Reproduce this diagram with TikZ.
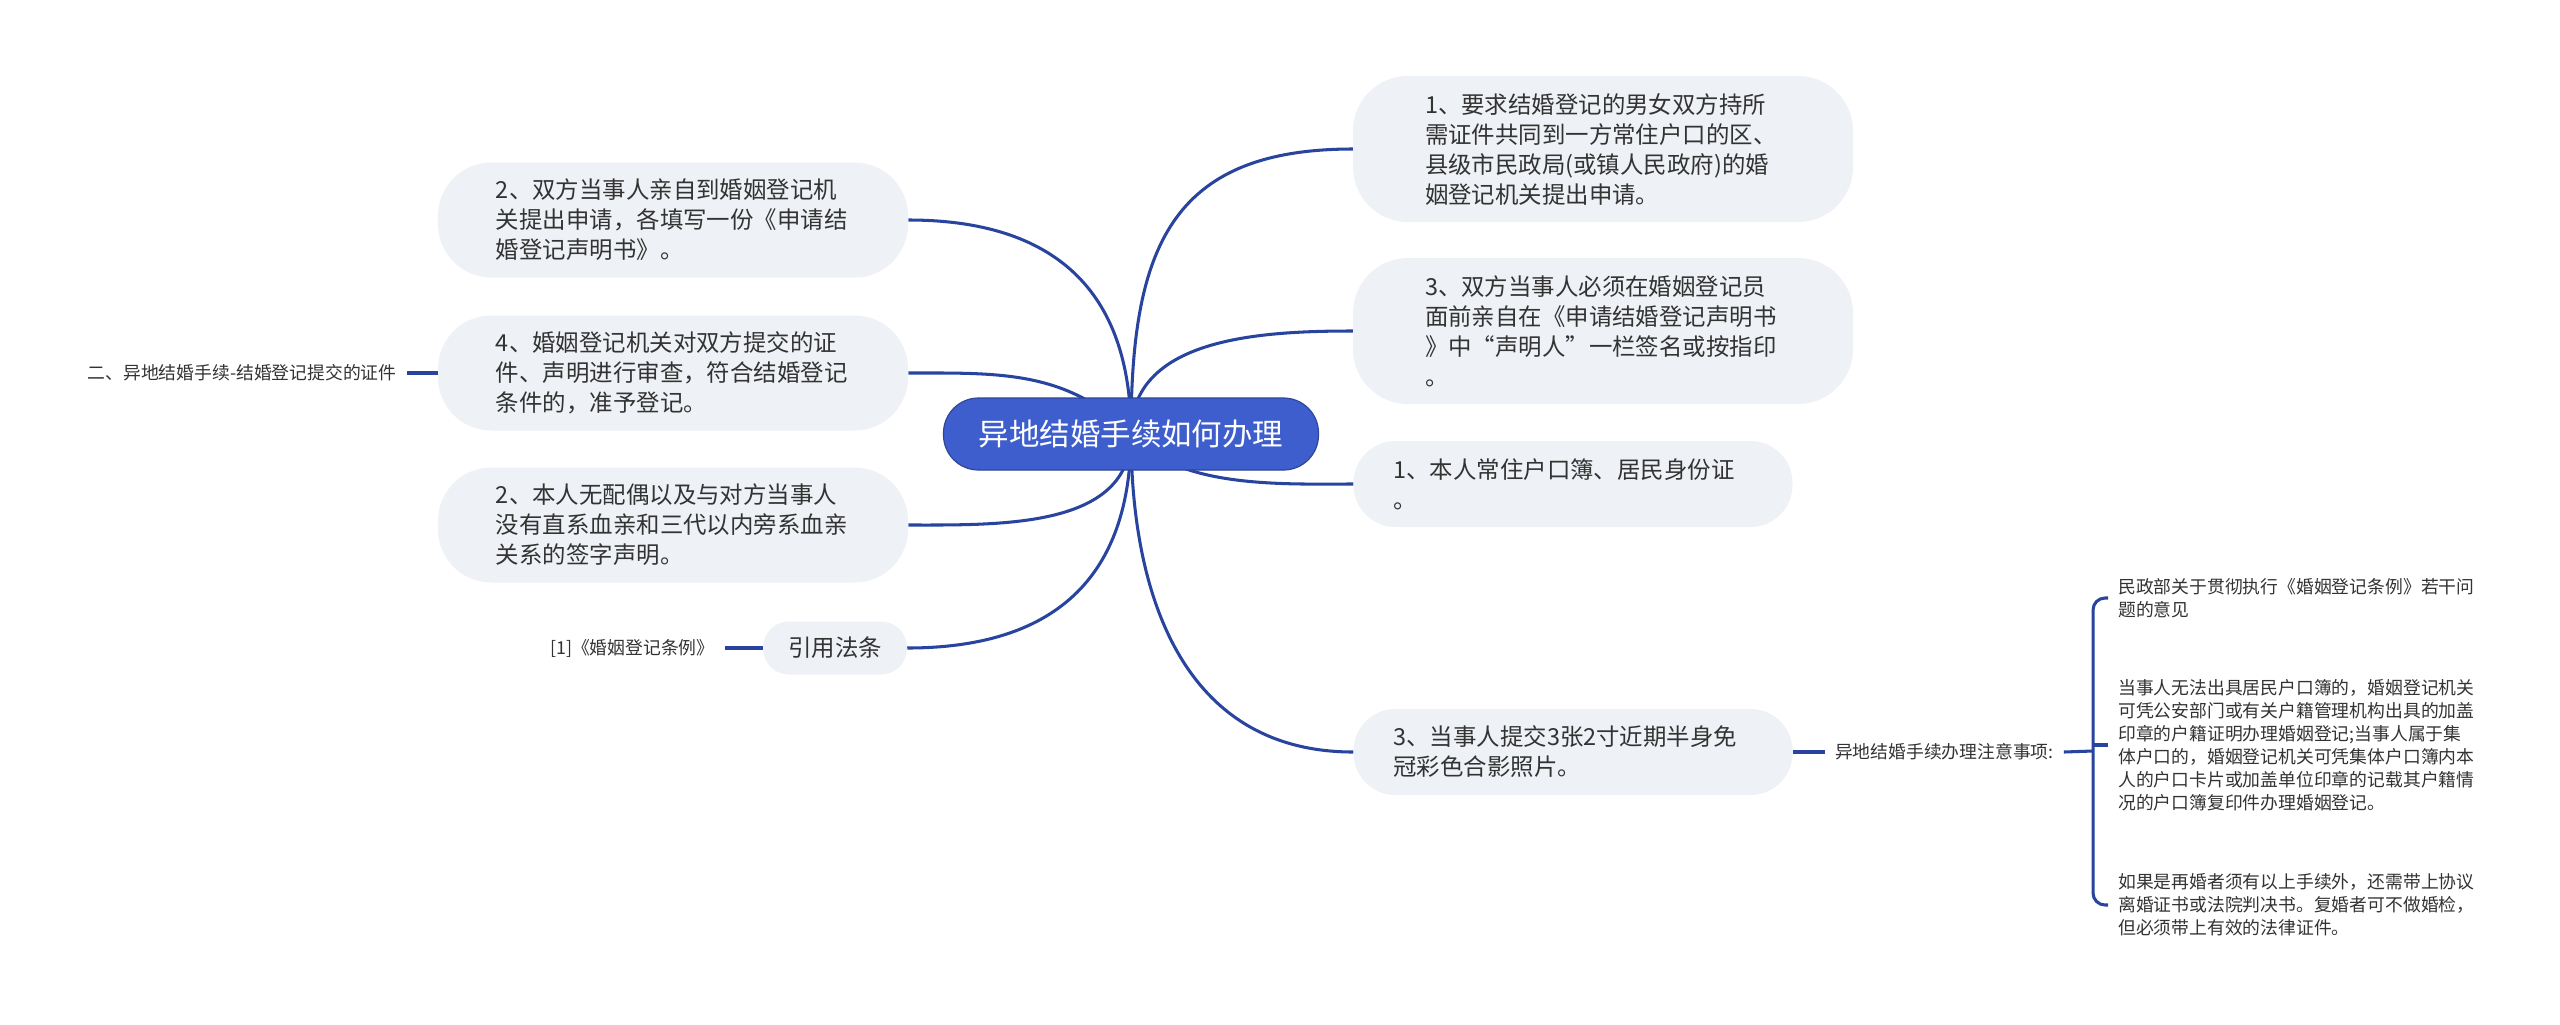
\documentclass[tikz,border=0pt]{standalone}
\usepackage{fontspec}
\setmainfont{Noto Sans CJK SC}
\usepackage{xcolor}
\definecolor{linkblue}{RGB}{40, 68, 158}
\definecolor{rootblue}{RGB}{61, 94, 204}
\definecolor{boxgray}{RGB}{238, 241, 245}
\definecolor{textgray}{RGB}{51, 51, 51}
\usepackage{tikz}
\usetikzlibrary{positioning, backgrounds}

\begin{document}
\begin{tikzpicture}[
  x=0.03cm, y=-0.03cm,
  root/.style={rectangle, draw=rootblue!75!black, line width=1pt, fill=rootblue, text=white, rounded corners=1.05cm, minimum width=11.25cm, minimum height=2.16cm, inner sep=0pt, font=\fontsize{26pt}{30pt}\selectfont},
  topic/.style={rectangle, fill=boxgray, text=textgray, inner sep=0pt, align=left, font=\fontsize{20pt}{25.6pt}\selectfont},
  lbox/.style={topic, rounded corners=1.6cm, minimum width=14.1cm, minimum height=3.45cm, text width=10.62cm},
  rbox/.style={topic, rounded corners=1.65cm, minimum width=15cm, minimum height=4.38cm, text width=10.68cm},
  sbox/.style={topic, rounded corners=1.26cm, minimum width=13.17cm, minimum height=2.58cm, text width=10.77cm},
  refbox/.style={topic, align=center, rounded corners=0.78cm, minimum width=4.32cm, minimum height=1.59cm},
  note/.style={text=textgray, inner xsep=0.3cm, inner ysep=0pt, font=\fontsize{15.2pt}{19.6pt}\selectfont},
  leaf/.style={note, align=left, text width=10.8cm},
  link/.style={draw=linkblue, line width=2.6pt}
]
\useasboundingbox (0,0) rectangle (2560,1024);
% Root
\node[root] (root) at (1131,434) {异地结婚手续如何办理};
% Left side
\node[lbox] (l1) at (673,220) {2、双方当事人亲自到婚姻登记机\\关提出申请，各填写一份《申请结\\婚登记声明书》。};
\node[lbox] (l2) at (673,373) {4、婚姻登记机关对双方提交的证\\件、声明进行审查，符合结婚登记\\条件的，准予登记。};
\node[lbox] (l3) at (673,525) {2、本人无配偶以及与对方当事人\\没有直系血亲和三代以内旁系血亲\\关系的签字声明。};
\node[refbox] (cite) at (835,648) {引用法条};
\node[note, left=0.93cm of l2] (src) {二、异地结婚手续-结婚登记提交的证件};
\node[note, left=1.14cm of cite] (law) {[1]《婚姻登记条例》};
% Right side
\node[rbox] (r1) at (1603,149) {1、要求结婚登记的男女双方持所\\需证件共同到一方常住户口的区、\\县级市民政局(或镇人民政府)的婚\\姻登记机关提出申请。};
\node[rbox] (r2) at (1603,331) {3、双方当事人必须在婚姻登记员\\面前亲自在《申请结婚登记声明书\\》中“声明人”一栏签名或按指印\\。};
\node[sbox] (r3) at (1573,484) {1、本人常住户口簿、居民身份证\\。};
\node[sbox] (r4) at (1573,752) {3、当事人提交3张2寸近期半身免\\冠彩色合影照片。};
\node[note, right=0.96cm of r4] (tips) {异地结婚手续办理注意事项:};
% Leaves
\node[leaf, anchor=west] (lf1) at (2108,598) {民政部关于贯彻执行《婚姻登记条例》若干问\\题的意见};
\node[leaf, anchor=west] (lf2) at (2108,745) {当事人无法出具居民户口簿的，婚姻登记机关\\可凭公安部门或有关户籍管理机构出具的加盖\\印章的户籍证明办理婚姻登记;当事人属于集\\体户口的，婚姻登记机关可凭集体户口簿内本\\人的户口卡片或加盖单位印章的记载其户籍情\\况的户口簿复印件办理婚姻登记。};
\node[leaf, anchor=west] (lf3) at (2108,905) {如果是再婚者须有以上手续外，还需带上协议\\离婚证书或法院判决书。复婚者可不做婚检，\\但必须带上有效的法律证件。};
\coordinate (brc) at (2093,751);
% Links
\begin{scope}[on background layer]
\fill[white] (0,0) rectangle (2560,1024);
\draw[link] (root.center) to[out=90, in=0, looseness=1.2] (l1.east);
\draw[link] (root.center) to[out=135, in=0] (l2.east);
\draw[link] (root.center) to[out=-90, in=0] (l3.east);
\draw[link] (root.center) to[out=-90, in=0, looseness=1.2] (cite.east);
\draw[link] (root.center) to[out=90, in=180, looseness=1.3] (r1.west);
\draw[link] (root.center) to[out=90, in=180] (r2.west);
\draw[link] (root.center) to[out=-50, in=180, looseness=0.8] (r3.west);
\draw[link] (root.center) to[out=-90, in=180, looseness=1.1] (r4.west);
\end{scope}
\draw[link] (src) -- (l2);
\draw[link] (law) -- (cite);
\draw[link] (r4) -- (tips);
\draw[link] (tips.east) -- (brc);
\draw[link, rounded corners=0.36cm] (lf1.west) -| (brc) |- (lf3.west);
\draw[link] (brc |- lf2.west) -- (lf2.west);
\end{tikzpicture}
\end{document}
